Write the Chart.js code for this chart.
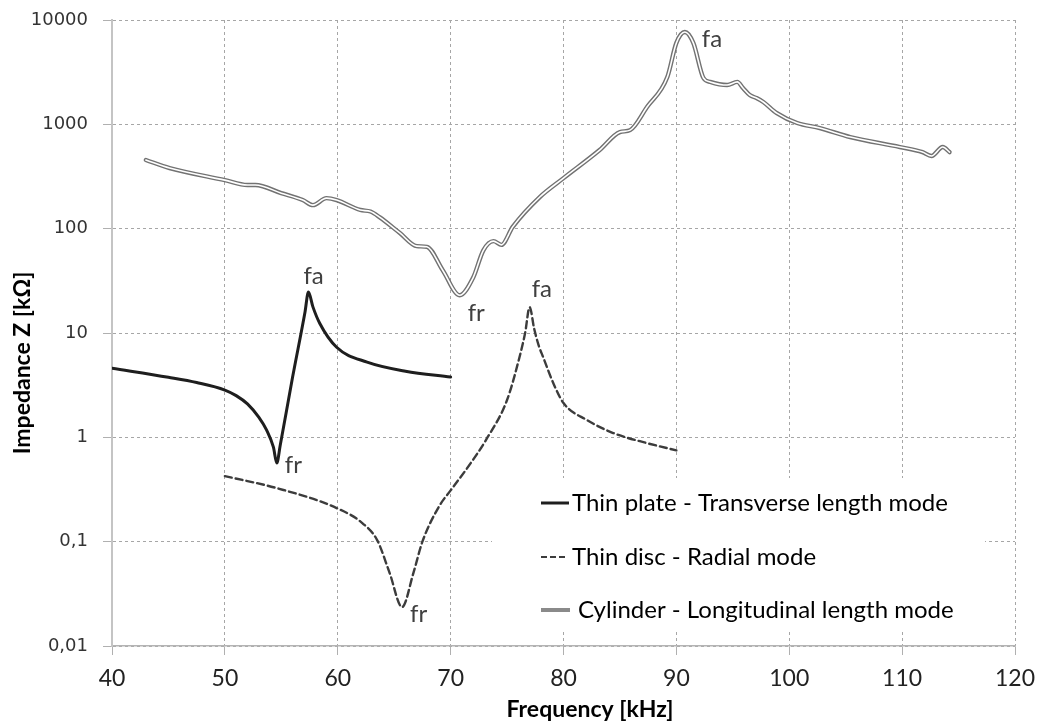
<!DOCTYPE html>
<html lang="en">
  <head>
    <meta charset="UTF-8" />
    <title>Impedance vs frequency</title>
    <style>
      * {
        margin: 0;
        padding: 0;
        box-sizing: border-box;
      }
      body {
        background: white;
      }
      .chartBox {
        width: 1038px;
        height: 727px;
      }
    </style>
  </head>
  <body>
    <div class="chartBox">
      <canvas id="myChart"></canvas>
    </div>

    <script src="https://cdn.jsdelivr.net/npm/chart.js"></script>

    <script>
      // thin plate, transverse length mode
      const plateFreq = [40, 45, 47.5, 50, 51, 52, 53, 53.7, 54.3, 54.6, 54.9, 56, 57.1, 57.4, 57.8, 58.4, 59.9, 62.6, 66, 70];
      const plateZ = [4.6, 3.76, 3.35, 2.84, 2.51, 2.09, 1.56, 1.17, 0.805, 0.567, 0.834, 3.78, 15.9, 24.7, 17.8, 12.4, 7.3, 5.26, 4.3, 3.78];

      // thin disc, radial mode
      const discFreq = [50, 54.6, 59.9, 62.2, 63.5, 64.6, 65.7, 66.7, 67.5, 69, 70, 71.7, 73.2, 75, 76.1, 76.6, 77, 77.4, 77.8, 78.2, 79.1, 80, 82.1, 84.4, 87.4, 90];
      const discZ = [0.425, 0.326, 0.21, 0.15, 0.103, 0.05, 0.0236, 0.05, 0.1, 0.22, 0.31, 0.55, 0.97, 2.28, 5.86, 10, 17.7, 11.0, 7.6, 5.86, 3.3, 2.13, 1.46, 1.1, 0.88, 0.75];

      // cylinder, longitudinal length mode
      const cylFreq = [43, 45.1, 50, 52, 52.7, 55, 56.9, 57.8, 59.0, 59.9, 62.0, 62.9, 63.7, 65.5, 67.0, 67.9, 69.3, 70.8, 72.0, 72.9, 73.8, 74.5, 75.5, 77.9, 80, 83.2, 85, 85.9, 87.4, 89.2, 90.0, 90.75, 91.5, 92.4, 93.0, 94.5, 95.4, 95.9, 96.5, 97.1, 97.7, 98.9, 100.7, 102.7, 105.4, 109.8, 111.8, 112.6, 113.6, 114.2];
      const cylZ = [455, 381, 292, 262, 262, 219, 188, 168, 196, 188, 151, 146, 129, 91, 68, 67, 40, 23, 34, 62, 76, 70, 104, 201, 305, 567, 843, 880, 1466, 2840, 6030, 7670, 6030, 2780, 2550, 2380, 2550, 2228, 1910, 1786, 1637, 1282, 1029, 922, 755, 606, 542, 497, 606, 542];

      const seriesLabels = [
        "Thin plate - Transverse length mode",
        "Thin disc - Radial mode",
        "Cylinder - Longitudinal length mode",
      ];

      const yTickValues = [0.01, 0.1, 1, 10, 100, 1000, 10000];
      const yTickLabels = ["0,01", "0,1", "1", "10", "100", "1000", "10000"];

      // fa / fr markers, anchored on the curve points
      const markerText = ["fa", "fr", "fa", "fr", "fa", "fr"];
      const markerFreq = [90.75, 70.8, 57.4, 54.6, 77, 65.7];
      const markerZ = [7670, 23, 24.7, 0.567, 17.7, 0.0236];
      const markerOffset = [
        [17, 7],
        [8, 18],
        [-5, -16],
        [8, 2],
        [2, -18],
        [8, 7],
      ];

      const toPoints = (xs, ys) => xs.map((x, i) => ({ x: x, y: ys[i] }));

      const data = {
        datasets: [
          {
            label: seriesLabels[0],
            data: toPoints(plateFreq, plateZ),
            borderColor: "#1e1e1e",
            borderWidth: 3,
            order: 0,
          },
          {
            label: seriesLabels[1],
            data: toPoints(discFreq, discZ),
            borderColor: "#3c3c3c",
            borderWidth: 2.4,
            borderDash: [7, 4],
            order: 0,
          },
          {
            label: seriesLabels[2],
            data: toPoints(cylFreq, cylZ),
            borderColor: "#727272",
            borderWidth: 4.4,
            order: 2,
          },
          {
            // white core of the double line
            label: "",
            data: toPoints(cylFreq, cylZ),
            borderColor: "#ffffff",
            borderWidth: 1.6,
            order: 1,
          },
        ],
      };

      const FONT = "Lato, 'Open Sans', sans-serif";

      const legendBox = {
        id: "legendBox",
        beforeDatasetsDraw(chart) {
          const { ctx, chartArea } = chart;
          ctx.save();
          ctx.fillStyle = "white";
          ctx.fillRect(chartArea.left + 380, chartArea.top + 458, 493, 154);
          ctx.restore();
        },
        afterDraw(chart) {
          const { ctx, chartArea } = chart;
          const x0 = chartArea.left + 429;
          const rows = [chartArea.top + 483, chartArea.top + 537, chartArea.top + 590];
          ctx.save();
          ctx.lineCap = "butt";
          ctx.strokeStyle = "#1e1e1e";
          ctx.lineWidth = 3;
          ctx.beginPath();
          ctx.moveTo(x0, rows[0]);
          ctx.lineTo(x0 + 28, rows[0]);
          ctx.stroke();

          ctx.strokeStyle = "#3c3c3c";
          ctx.lineWidth = 2;
          ctx.setLineDash([6, 3]);
          ctx.beginPath();
          ctx.moveTo(x0, rows[1]);
          ctx.lineTo(x0 + 27, rows[1]);
          ctx.stroke();
          ctx.setLineDash([]);

          ctx.strokeStyle = "#8a8a8a";
          ctx.lineWidth = 4;
          ctx.beginPath();
          ctx.moveTo(x0, rows[2]);
          ctx.lineTo(x0 + 29, rows[2]);
          ctx.stroke();

          ctx.fillStyle = "#000";
          ctx.font = "24px " + FONT;
          ctx.textBaseline = "middle";
          ctx.textAlign = "left";
          ctx.fillText(seriesLabels[0], x0 + 31, rows[0]);
          ctx.fillText(seriesLabels[1], x0 + 31, rows[1]);
          ctx.fillText(seriesLabels[2], x0 + 37, rows[2]);
          ctx.restore();
        },
      };

      const markers = {
        id: "markers",
        afterDatasetsDraw(chart) {
          const {
            ctx,
            scales: { x, y },
          } = chart;
          ctx.save();
          ctx.fillStyle = "#404040";
          ctx.font = "24px " + FONT;
          ctx.textBaseline = "middle";
          ctx.textAlign = "left";
          for (let i = 0; i < markerText.length; i++) {
            const px = x.getPixelForValue(markerFreq[i]) + markerOffset[i][0];
            const py = y.getPixelForValue(markerZ[i]) + markerOffset[i][1];
            ctx.fillText(markerText[i], px, py);
          }
          ctx.restore();
        },
      };

      const axisTitles = {
        id: "axisTitles",
        afterDraw(chart) {
          const { ctx, chartArea } = chart;
          ctx.save();
          ctx.fillStyle = "#000";
          ctx.font = "bold 23px " + FONT;
          ctx.textAlign = "center";
          ctx.textBaseline = "middle";
          ctx.fillText("Frequency [kHz]", chartArea.left + 478, chartArea.bottom + 64);
          ctx.translate(23, chartArea.top + 343);
          ctx.rotate(-Math.PI / 2);
          ctx.fillText("Impedance Z [kΩ]", 0, 0);
          ctx.restore();
        },
      };

      const config = {
        type: "line",
        data: data,
        options: {
          responsive: true,
          maintainAspectRatio: false,
          animation: false,
          layout: {
            padding: { top: 20, right: 23, left: 0, bottom: 0 },
          },
          elements: {
            point: { radius: 0 },
            line: { cubicInterpolationMode: "monotone", borderCapStyle: "round", borderJoinStyle: "round" },
          },
          plugins: {
            legend: { display: false },
            tooltip: { enabled: false },
          },
          scales: {
            x: {
              type: "linear",
              min: 40,
              max: 120,
              afterFit: (scale) => {
                scale.height = 81;
                scale.paddingLeft = 0;
                scale.paddingRight = 0;
              },
              ticks: {
                stepSize: 10,
                color: "#222",
                padding: 10,
                font: { family: FONT, size: 23 },
              },
              grid: {
                color: "#a6a6a6",
                tickColor: "#b0b0b0",
                tickLength: 9,
              },
              border: {
                color: "#b4b4b4",
                width: 1.5,
                dash: [3, 3],
              },
            },
            y: {
              type: "logarithmic",
              min: 0.01,
              max: 10000,
              afterFit: (scale) => {
                scale.width = 112;
                scale.paddingTop = 0;
                scale.paddingBottom = 0;
              },
              afterBuildTicks: (scale) => {
                scale.ticks = yTickValues.map((v) => ({ value: v }));
              },
              ticks: {
                color: "#333",
                padding: 15,
                font: { family: "'DejaVu Sans', sans-serif", size: 18 },
                callback: (value, index) => yTickLabels[index],
              },
              grid: {
                color: "#a6a6a6",
                tickColor: "#b0b0b0",
                tickLength: 9,
              },
              border: {
                color: "#c4c4c4",
                width: 2,
                dash: [3, 3],
              },
            },
          },
        },
        plugins: [legendBox, markers, axisTitles],
      };

      const myChart = new Chart(document.getElementById("myChart"), config);
    </script>
  </body>
</html>
